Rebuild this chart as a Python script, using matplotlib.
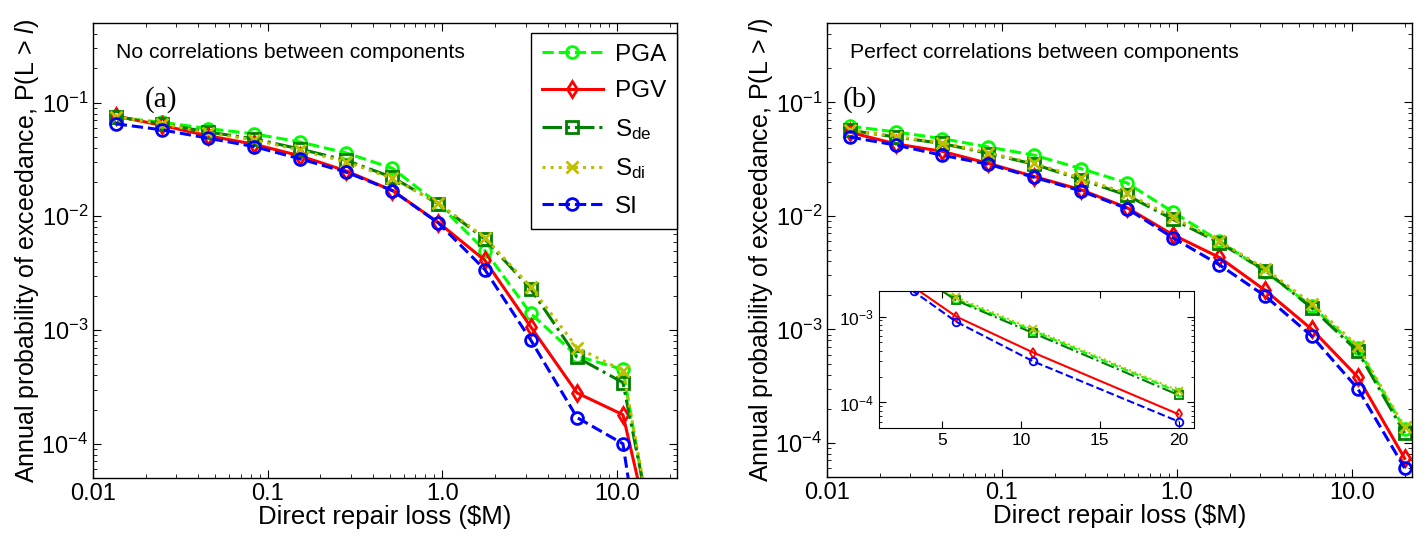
import matplotlib
matplotlib.use("Agg")
import matplotlib.pyplot as plt
from matplotlib.ticker import FixedLocator, FixedFormatter, LogLocator, NullFormatter

plt.rcParams['font.family'] = ['Liberation Sans', 'DejaVu Sans']
plt.rcParams['mathtext.fontset'] = 'custom'
plt.rcParams['mathtext.rm'] = 'Liberation Sans'
plt.rcParams['mathtext.it'] = 'Liberation Sans:italic'

# loss levels ($M)
loss = [0.0135, 0.0248, 0.0455, 0.0835, 0.153, 0.282, 0.518, 0.95, 1.75, 3.2, 5.9, 10.8, 20.0]

# (a) no correlations between components
a_pga = [0.074, 0.067, 0.059, 0.053, 0.045, 0.036, 0.0264, 0.0128, 0.0050, 0.0014, 5.9e-4, 4.5e-4, 2e-6]
a_pgv = [0.076, 0.063, 0.051, 0.043, 0.034, 0.025, 0.0168, 0.0088, 0.0041, 0.00107, 2.8e-4, 1.8e-4, 3e-6]
a_sde = [0.075, 0.065, 0.055, 0.048, 0.039, 0.031, 0.0220, 0.0128, 0.0063, 0.0023, 5.75e-4, 3.45e-4, 3e-6]
a_sdi = [0.075, 0.065, 0.054, 0.047, 0.038, 0.030, 0.0215, 0.0130, 0.0065, 0.0024, 7.0e-4, 4.4e-4, 2.5e-6]
a_si = [0.065, 0.0575, 0.0486, 0.041, 0.032, 0.0244, 0.0168, 0.0087, 0.0034, 8.2e-4, 1.7e-4, 1.0e-4, 2e-7]

# (b) perfect correlations between components
b_pga = [0.0616, 0.0548, 0.0479, 0.0404, 0.0342, 0.0261, 0.0195, 0.0108, 0.0060, 0.0032, 1.6e-3, 6.8e-4, 1.32e-4]
b_pgv = [0.0545, 0.0430, 0.0370, 0.0290, 0.0222, 0.0170, 0.0118, 0.0068, 0.0043, 0.0022, 1.0e-3, 3.8e-4, 7.3e-5]
b_sde = [0.0567, 0.0495, 0.0434, 0.0354, 0.0285, 0.0209, 0.0152, 0.0093, 0.0058, 0.0033, 1.54e-3, 6.4e-4, 1.22e-4]
b_sdi = [0.057, 0.050, 0.044, 0.036, 0.029, 0.0215, 0.0158, 0.0097, 0.0060, 0.0034, 1.68e-3, 7.1e-4, 1.37e-4]
b_si = [0.0495, 0.042, 0.0342, 0.0285, 0.0218, 0.0166, 0.0116, 0.0064, 0.0037, 0.00196, 8.7e-4, 3.0e-4, 6.0e-5]

labels = ['PGA', 'PGV', 'S$_{\\mathrm{de}}$', 'S$_{\\mathrm{di}}$', 'SI']
colors = ['#00ff00', '#ff0000', '#008000', '#bfbf00', '#0000ff']
styles = ['--', '-', '-.', ':', '--']
markers = ['o', 'd', 's', 'x', 'o']

xticks = [0.01, 0.1, 1.0, 10.0]
xticklabels = ['0.01', '0.1', '1.0', '10.0']


def style_axes(ax):
    ax.tick_params(which='both', direction='in', top=True, right=True, labelsize=17)
    ax.tick_params(which='major', length=6)
    ax.tick_params(which='minor', length=3)
    for s in ax.spines.values():
        s.set_linewidth(1.0)


def draw_panel(ax, series, note, tag):
    for y, lab, c, ls, m in zip(series, labels, colors, styles, markers):
        ax.plot(loss, y, ls=ls, color=c, marker=m, mfc='none', mec=c,
                ms=8.5, mew=2.0, lw=2.2, label=lab)
    ax.set_xscale('log')
    ax.set_yscale('log')
    ax.set_xlim(0.01, 22)
    ax.set_ylim(5e-5, 0.5)
    ax.xaxis.set_major_locator(FixedLocator(xticks))
    ax.xaxis.set_major_formatter(FixedFormatter(xticklabels))
    ax.xaxis.set_minor_locator(LogLocator(base=10, subs=range(2, 10)))
    ax.xaxis.set_minor_formatter(NullFormatter())
    ax.yaxis.set_major_locator(FixedLocator([1e-4, 1e-3, 1e-2, 1e-1]))
    ax.yaxis.set_minor_locator(LogLocator(base=10, subs=range(2, 10)))
    ax.yaxis.set_minor_formatter(NullFormatter())
    style_axes(ax)
    ax.set_xlabel('Direct repair loss ($M)', fontsize=18.5, labelpad=0)
    ax.set_ylabel('Annual probability of exceedance, P(L > $\\it{l}$)', fontsize=18, labelpad=0)
    ax.text(0.04, 0.936, note, transform=ax.transAxes, fontsize=15.2, va='center')
    ax.text(tag[1], 0.831, tag[0], transform=ax.transAxes, fontsize=21,
            family='Liberation Serif', va='center')


fig = plt.figure(figsize=(14.26, 5.45), dpi=100)
ax1 = fig.add_axes([0.0652, 0.1229, 0.4095, 0.8349])
ax2 = fig.add_axes([0.5799, 0.1247, 0.4102, 0.8331])

draw_panel(ax1, [a_pga, a_pgv, a_sde, a_sdi, a_si], 'No correlations between components', ('(a)', 0.089))
draw_panel(ax2, [b_pga, b_pgv, b_sde, b_sdi, b_si], 'Perfect correlations between components', ('(b)', 0.027))

leg = ax1.legend(loc='upper right', bbox_to_anchor=(1.0, 0.979), borderaxespad=0,
                 fontsize=17.5, fancybox=False, edgecolor='black', framealpha=1,
                 handlelength=2.5, labelspacing=0.6, borderpad=0.45, handletextpad=0.5)
leg.get_frame().set_linewidth(1.0)

# inset, linear x
axi = fig.add_axes([0.6164, 0.2141, 0.2211, 0.2525])
for y, c, ls, m in zip([b_pga, b_pgv, b_sde, b_sdi, b_si], colors, styles, markers):
    axi.plot(loss, y, ls=ls, color=c, marker=m, mfc='none', mec=c, ms=5.5, mew=1.3, lw=1.5)
axi.set_yscale('log')
axi.set_xlim(1, 21)
axi.set_ylim(5e-5, 2e-3)
axi.set_xticks([5, 10, 15, 20])
axi.yaxis.set_major_locator(FixedLocator([1e-4, 1e-3]))
axi.yaxis.set_minor_locator(LogLocator(base=10, subs=range(2, 10)))
axi.yaxis.set_minor_formatter(NullFormatter())
axi.tick_params(which='both', direction='in', top=True, right=True, labelsize=12.5)
axi.tick_params(which='major', length=5)
axi.tick_params(which='minor', length=2.5)

fig.savefig('out.png', dpi=100)
